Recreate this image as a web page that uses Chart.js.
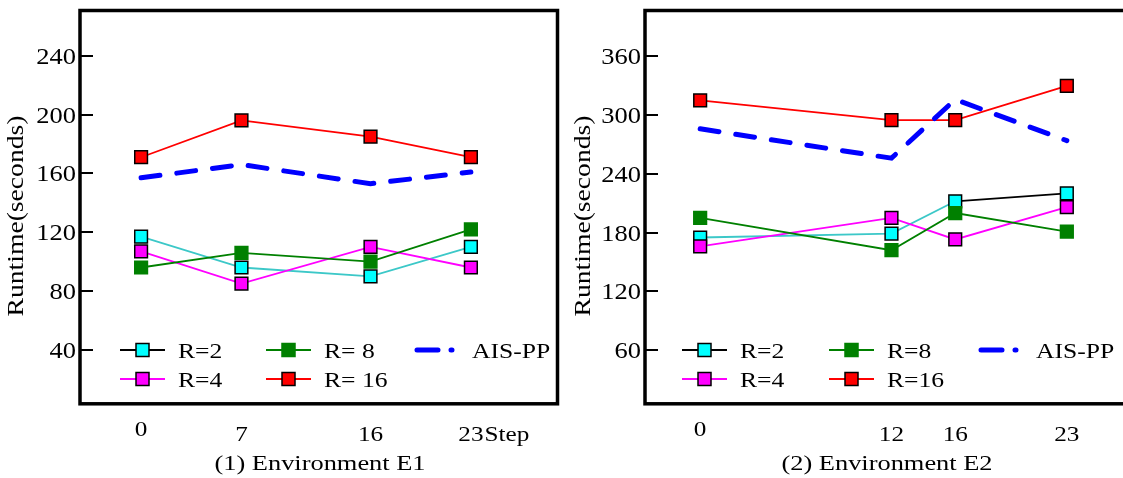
<!DOCTYPE html>
<html><head><meta charset="utf-8">
<script src="https://cdn.jsdelivr.net/npm/chart.js@4/dist/chart.umd.min.js"></script>
<style>
html,body{margin:0;padding:0;background:#fff;overflow:hidden;width:1123px;height:478px;}
canvas{position:absolute;top:0;}
#c1{left:0;} #c2{left:568px;}
</style></head><body>
<canvas id="c1" width="568" height="478"></canvas>
<canvas id="c2" width="590" height="478"></canvas>
<script>
// ---------- data ----------
const stepsE1 = [0, 7, 16, 23];
const e1R2  = [117, 96, 90, 110];
const e1R4  = [107, 85, 110, 96];
const e1R8  = [96, 106, 100, 122];
const e1R16 = [171, 196, 185, 171];
const e1AIS = [157, 166, 153, 161];

const stepsE2 = [0, 12, 16, 23];
const e2R2  = [175, 179, 212, 220];
const e2R4  = [166, 195, 173, 206];
const e2R8  = [195, 162, 200, 181];
const e2R16 = [315, 295, 295, 330];
const e2AIS = [286, 256, 316, 274];

const namesE1 = ['R=2', 'R=4', 'R= 8', 'R= 16', 'AIS-PP'];
const namesE2 = ['R=2', 'R=4', 'R=8', 'R=16', 'AIS-PP'];
const e1XLabels = ['0', '7', '16', '23'];
const e2XLabels = ['0', '12', '16', '23'];
const e1YTicks = [40, 80, 120, 160, 200, 240];
const e2YTicks = [60, 120, 180, 240, 300, 360];
const e1Title = '(1) Environment E1';
const e2Title = '(2) Environment E2';
const yTitle = 'Runtime(seconds)';
const xUnit = 'Step';

// ---------- helpers ----------
const FONT = '"Liberation Serif","Times New Roman",serif';
function sText(ctx, str, x, y, size, align, sx, rot, baseline) {
  ctx.save();
  ctx.translate(x, y);
  if (rot) ctx.rotate(rot);
  ctx.scale(sx, 1);
  ctx.font = size + 'px ' + FONT;
  ctx.textAlign = align;
  ctx.textBaseline = baseline || 'alphabetic';
  ctx.fillStyle = '#000';
  ctx.fillText(str, 0, 0);
  ctx.restore();
}
function pts(xs, ys) { return xs.map((x, i) => ({x: x, y: ys[i]})); }

const CYAN_LINE = '#3cc8c8';
function makeSets(steps, names, r2, r4, r8, r16, ais, r2Segment) {
  const sq = (fill, border) => ({pointStyle: 'rect', pointRadius: 9, pointBackgroundColor: fill,
    pointBorderColor: border, pointBorderWidth: 1.5, borderWidth: 1.8, tension: 0});
  const r2set = Object.assign({label: names[0], data: pts(steps, r2), borderColor: CYAN_LINE, legendLine: '#000', legendPos: [0, 0]}, sq('#00ffff', '#000'));
  if (r2Segment) r2set.segment = {borderColor: c => c.p0DataIndex === 2 ? '#000' : CYAN_LINE};
  return [
    Object.assign({label: names[4], data: pts(steps, ais), borderColor: '#0000ff', borderWidth: 5,
      borderDash: [19, 17], borderCapStyle: 'round', pointRadius: 0, isDash: true, legendPos: [2, 0]}),
    Object.assign({label: names[2], data: pts(steps, r8), borderColor: '#008000', legendPos: [1, 0]}, sq('#008000', '#008000')),
    Object.assign({label: names[1], data: pts(steps, r4), borderColor: '#ff00ff', legendPos: [0, 1]}, sq('#ff00ff', '#000')),
    r2set,
    Object.assign({label: names[3], data: pts(steps, r16), borderColor: '#ff0000', legendPos: [1, 1]}, sq('#ff0000', '#000'))
  ];
}

const decor = {
  id: 'decor',
  afterDatasetsDraw(chart, args, o) {
    const ctx = chart.ctx, a = chart.chartArea, xs = chart.scales.x, ys = chart.scales.y;
    ctx.save();
    // y ticks (inward) and labels
    ctx.strokeStyle = '#000'; ctx.lineWidth = 2;
    o.yTicks.forEach(v => {
      const py = Math.round(ys.getPixelForValue(v));
      ctx.beginPath(); ctx.moveTo(a.left, py); ctx.lineTo(a.left + 13, py); ctx.stroke();
      sText(ctx, String(v), a.left - 4, py + 7.5, 23, 'right', 1.15);
    });
    // x labels
    o.xValues.forEach((v, i) => {
      const px = xs.getPixelForValue(v);
      sText(ctx, o.xLabels[i], px, a.bottom + (i === 0 ? 32 : 37), 21, 'center', 1.2);
      if (o.xUnit && i === o.xValues.length - 1) {
        ctx.font = '21px ' + FONT;
        const w = ctx.measureText(o.xLabels[i]).width * 1.2;
        sText(ctx, o.xUnit, px + w / 2 + 1, a.bottom + 37, 21, 'left', 1.2);
      }
    });
    // frame
    ctx.lineWidth = 3.5; ctx.strokeStyle = '#000';
    ctx.strokeRect(a.left, a.top, a.right - a.left, a.bottom - a.top);
    // titles
    sText(ctx, o.title, o.titleX, a.bottom + 66, 22, 'center', 1.2);
    sText(ctx, yTitle, o.yTitleX, 216, 23, 'center', 1.2, -Math.PI / 2, 'middle');
    // legend inside plot
    chart.data.datasets.forEach(ds => {
      const x0 = a.left + o.legendCols[ds.legendPos[0]];
      const y = o.legendRows[ds.legendPos[1]];
      ctx.save();
      if (ds.isDash) {
        ctx.strokeStyle = ds.borderColor; ctx.lineWidth = 5; ctx.lineCap = 'round';
        ctx.setLineDash([21, 13, 1, 40]);
        ctx.beginPath(); ctx.moveTo(x0 + 3, y); ctx.lineTo(x0 + 46, y); ctx.stroke();
      } else {
        ctx.strokeStyle = ds.legendLine || ds.borderColor; ctx.lineWidth = 2;
        ctx.beginPath(); ctx.moveTo(x0, y); ctx.lineTo(x0 + 45, y); ctx.stroke();
        ctx.fillStyle = ds.pointBackgroundColor; ctx.strokeStyle = ds.pointBorderColor; ctx.lineWidth = 1.5;
        ctx.fillRect(x0 + 16, y - 6.5, 13, 13); ctx.strokeRect(x0 + 16, y - 6.5, 13, 13);
      }
      ctx.restore();
      sText(ctx, ds.label, x0 + 58, y + 8, 21, 'left', 1.22);
    });
    ctx.restore();
  }
};

function makeChart(id, sets, pad, xmin, xmax, ymin, ymax, deco) {
  return new Chart(document.getElementById(id), {
    type: 'line',
    data: {datasets: sets},
    options: {
      responsive: false, animation: false, devicePixelRatio: 1, events: [],
      layout: {padding: pad},
      plugins: {legend: {display: false}, tooltip: {enabled: false}, title: {display: false}, decor: deco},
      scales: {
        x: {type: 'linear', min: xmin, max: xmax, display: false},
        y: {type: 'linear', min: ymin, max: ymax, display: false}
      }
    },
    plugins: [decor]
  });
}

makeChart('c1', makeSets(stepsE1, namesE1, e1R2, e1R4, e1R8, e1R16, e1AIS, false),
  {left: 80, right: 4.5, top: 10.3, bottom: 74.2}, -4.26, 29.04, 3.3, 270.8,
  {yTicks: e1YTicks, xValues: stepsE1, xLabels: e1XLabels, xUnit: xUnit, title: e1Title,
   titleX: 320, yTitleX: 17, legendCols: [40, 186, 334], legendRows: [350, 379]});

makeChart('c2', makeSets(stepsE2, namesE2, e2R2, e2R4, e2R8, e2R16, e2AIS, true),
  {left: 77, right: 10, top: 10.3, bottom: 74.2}, -3.46, 28.06, 5.1, 406.9,
  {yTicks: e2YTicks, xValues: stepsE2, xLabels: e2XLabels, xUnit: null, title: e2Title,
   titleX: 319, yTitleX: 16, legendCols: [37, 184, 333], legendRows: [350, 379]});
</script>
</body></html>
